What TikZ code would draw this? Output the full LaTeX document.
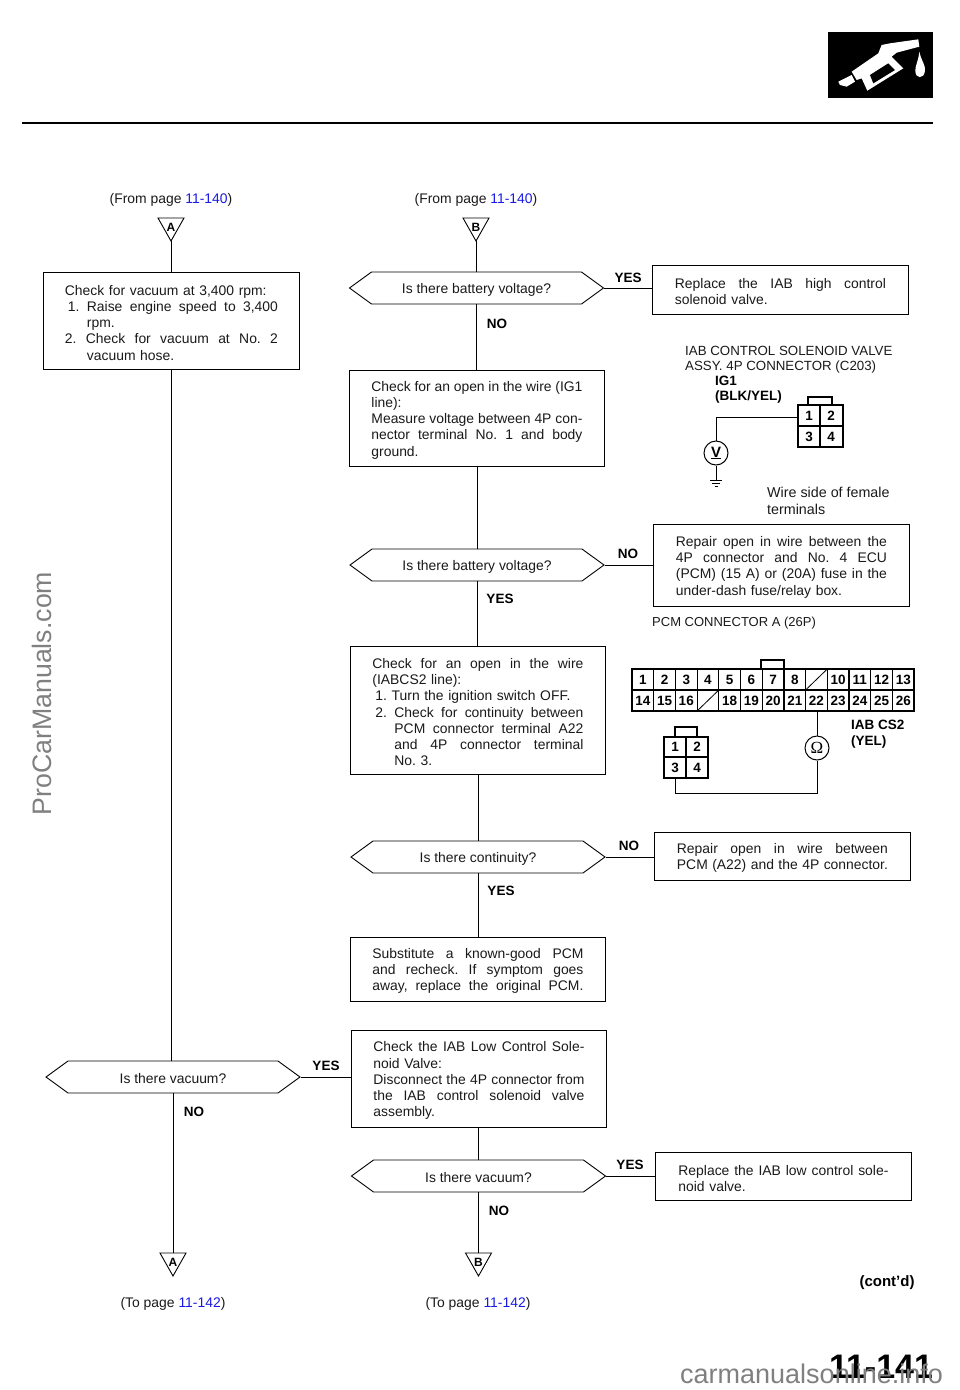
\documentclass[tikz,border=0pt]{standalone}
\usepackage{fontspec}
\setmainfont{Liberation Sans}
\newfontfamily\serifomega{Liberation Serif}
\usetikzlibrary{shapes.symbols}
\definecolor{linkblue}{HTML}{1A1AE6}
\definecolor{wmgray}{HTML}{808080}
\definecolor{ink}{HTML}{1A1A1A}
\AtBeginDocument{\frenchspacing}
\newcommand{\J}[2][0pt]{\makebox[\hsize][s]{\spaceskip=.278em plus 1fil minus .12em\relax\hspace*{#1}#2}}
\newcommand{\I}[2]{\hspace*{#1}#2}
\tikzset{
  txt/.style={font=\fontsize{13.9}{16.2}\selectfont,text=ink},
  capstxt/.style={font=\fontsize{13.3}{16.2}\selectfont,text=ink},
  boxn/.style={draw,line width=.9pt,anchor=north west,inner xsep=0pt,inner ysep=0pt,align=left,txt,execute at begin node=\rule{0pt}{13.5pt}},
  dia/.style={draw,line width=.9pt,signal,signal to=west and east,signal pointer angle=72,minimum width=254,minimum height=32,inner sep=0pt,txt,execute at begin node=\rule{0pt}{13.5pt}},
  ans/.style={font=\bfseries\fontsize{13.5}{14}\selectfont,inner sep=0pt,yshift=-1pt},
  plain/.style={inner sep=0pt,txt,yshift=-1.5pt},
  link/.style={line width=.9pt},
  pin/.style={font=\bfseries\fontsize{13.5}{13}\selectfont,inner sep=0pt},
  wire/.style={line width=1pt},
  conn/.style={line width=1.5pt},
  tag/.style={font=\bfseries\fontsize{13.5}{16}\selectfont,inner sep=0pt,anchor=west},
  meter/.style={draw,circle,line width=1pt,minimum size=24,inner sep=0pt,fill=white}
}
\newcommand{\tri}[4]{%
  \coordinate (#1t) at (#2,#3);
  \coordinate (#1b) at (#2,#3+23);
  \draw[line width=.9pt] (#2-13,#3) -- (#2+13,#3) -- (#2,#3+23) -- cycle;
  \node[inner sep=0pt,font=\bfseries\fontsize{12}{12}\selectfont] (#1l) at (#2,#3+9) {#4};}
\begin{document}
\begin{tikzpicture}[x=1pt,y=-1pt]
\useasboundingbox[fill=white] (0,0) rectangle (960,1390);
% header
\fill (828,32) rectangle (933,98);
\begin{scope}[shift={(640,0)},x=.3333pt,y=-.3333pt]
\fill[white] (595,245) -- (635,225) -- (645,245) -- (620,260) -- (600,255) -- cycle;
\fill[white] (635,215) -- (715,160) -- (725,135) -- (750,130) -- (835,118) -- (838,140) -- (770,158) -- (755,170) -- (790,205) -- (682,272) -- (665,235) -- (650,240) -- cycle;
\fill (690,225) -- (745,190) -- (765,210) -- (700,250) -- cycle;
\fill[white] (838,155) .. controls (845,185) and (857,195) .. (855,212) .. controls (853,238) and (826,238) .. (826,212) .. controls (826,195) and (835,185) .. (838,155) -- cycle;
\end{scope}
\draw[line width=2.6pt] (22,123) -- (933,123);
% watermark left
\node[rotate=90,text=wmgray,inner sep=0pt,font=\fontsize{26.7}{30}\selectfont] (wm1) at (41.5,693.5) {ProCarManuals.com};
% left column
\node[plain] (fa) at (171,198) {(From page \textcolor{linkblue}{11-140})};
\tri{ta}{171}{218}{A}
\node[boxn,text width=213,inner xsep=21.5pt,minimum height=97] (b1) at (43,272) {Check for vacuum at 3,400 rpm:\\
\J[3pt]{1. Raise engine speed to 3,400}\\
\I{22pt}{rpm.}\\
\J{2. Check for vacuum at No. 2}\\
\I{22pt}{vacuum hose.}};
\node[dia] (d5) at (173,1077) {Is there vacuum?};
\tri{tc}{173}{1253}{A}
\node[plain] (ta) at (173,1302) {(To page \textcolor{linkblue}{11-142})};
\node[ans] (y5) at (326,1065) {YES};
\node[ans] (n5) at (194,1111) {NO};
% middle column
\node[plain] (fb) at (476,198) {(From page \textcolor{linkblue}{11-140})};
\tri{tb}{476}{218}{B}
\node[dia] (d1) at (476.5,288) {Is there battery voltage?};
\node[ans] (n1) at (497,323) {NO};
\node[boxn,text width=211,inner xsep=22pt,minimum height=96] (b2) at (349,370) {\J{Check for an open in the wire (IG1}\\
line):\\
\J{Measure voltage between 4P con-}\\
\J{nector terminal No. 1 and body}\\
ground.};
\node[dia] (d2) at (477,565) {Is there battery voltage?};
\node[ans] (y2) at (500,598) {YES};
\node[boxn,text width=211,inner xsep=22pt,minimum height=128] (b3) at (350,646) {\J{Check for an open in the wire}\\
(IABCS2 line):\\
\I{3pt}{1. Turn the ignition switch OFF.}\\
\J[3pt]{2. Check for continuity between}\\
\J[22pt]{PCM connector terminal A22}\\
\J[22pt]{and 4P connector terminal}\\
\I{22pt}{No. 3.}};
\node[dia] (d3) at (478,857) {Is there continuity?};
\node[ans] (y3) at (501,890) {YES};
\node[boxn,text width=211,inner xsep=22pt,minimum height=64] (b4) at (350,937) {\J{Substitute a known-good PCM}\\
\J{and recheck. If symptom goes}\\
\J{away, replace the original PCM.}};
\node[boxn,text width=211,inner xsep=22pt,minimum height=97] (b5) at (351,1030) {\J{Check the IAB Low Control Sole-}\\
noid Valve:\\
\J{Disconnect the 4P connector from}\\
\J{the IAB control solenoid valve}\\
assembly.};
\node[dia] (d4) at (478.5,1176) {Is there vacuum?};
\node[ans] (n4) at (499,1210) {NO};
\tri{td}{478.5}{1253}{B}
\node[plain] (tb2) at (478,1302) {(To page \textcolor{linkblue}{11-142})};
% right column
\node[ans] (y1) at (628,277) {YES};
\node[boxn,text width=211,inner xsep=22.5pt,minimum height=49] (r1) at (652,265) {\J{Replace the IAB high control}\\
solenoid valve.};
\node[ans] (n2) at (628,553) {NO};
\node[boxn,text width=211,inner xsep=22.5pt,minimum height=82] (r2) at (653,524) {\J{Repair open in wire between the}\\
\J{4P connector and No. 4 ECU}\\
\J{(PCM) (15 A) or (20A) fuse in the}\\
under-dash fuse/relay box.};
\node[ans] (n3) at (629,845) {NO};
\node[boxn,text width=211,inner xsep=22.5pt,minimum height=48] (r3) at (654,832) {\J{Repair open in wire between}\\
\J{PCM (A22) and the 4P connector.}};
\node[ans] (y4) at (630,1164) {YES};
\node[boxn,text width=210,inner xsep=23pt,minimum height=48] (r4) at (655,1152) {\J{Replace the IAB low control sole-}\\
noid valve.};
% flow connectors
\draw[link] (tab) -- (b1.north -| tab);
\draw[link] (b1.south -| tab) -- (d5.north -| tab);
\draw[link] (d5.south) -- (tct);
\draw[link] (d5.east) -- (d5.east -| b5.west);
\draw[link] (tbb) -- (d1.north -| tbb);
\draw[link] (d1.south) -- (b2.north -| d1.south);
\draw[link] (d1.east) -- (d1.east -| r1.west);
\draw[link] (b2.south -| d2.north) -- (d2.north);
\draw[link] (d2.south) -- (b3.north -| d2.south);
\draw[link] (d2.east) -- (d2.east -| r2.west);
\draw[link] (b3.south -| d3.north) -- (d3.north);
\draw[link] (d3.south) -- (b4.north -| d3.south);
\draw[link] (d3.east) -- (d3.east -| r3.west);
\draw[link] (b5.south -| d4.north) -- (d4.north);
\draw[link] (d4.south) -- (tdt);
\draw[link] (d4.east) -- (d4.east -| r4.west);
% 4P connector diagram 1
\node[plain,capstxt,anchor=west] (c1a) at (685,349) {IAB CONTROL SOLENOID VALVE};
\node[plain,capstxt,anchor=west] (c1b) at (685,366) {ASSY. 4P CONNECTOR (C203)};
\node[tag] (ig1) at (715,381) {IG1};
\node[tag] (blk) at (715,397) {(BLK/YEL)};
\draw[conn] (798,405) rectangle (843,447);
\draw[conn] (820,405) -- (820,447) (798,426) -- (843,426);
\draw[conn] (808,405) -- (808,397) -- (832,397) -- (832,405);
\node[pin] at (809,416) {1};
\node[pin] at (831,416) {2};
\node[pin] at (809,437) {3};
\node[pin] at (831,437) {4};
\node[meter] (vm) at (716,453) {\bfseries\fontsize{15}{15}\selectfont\underline{V}};
\coordinate (w1) at (798,417);
\coordinate (gnd) at (716,480);
\draw[wire] (w1) -| (vm.north);
\draw[wire] (vm.south) -- (gnd);
\draw[wire] (710,480) -- (722,480) (712,483) -- (720,483) (714.5,486) -- (717.5,486);
\node[plain,font=\fontsize{14.3}{16.2}\selectfont,anchor=west] (ws1) at (767,491) {Wire side of female};
\node[plain,font=\fontsize{14.3}{16.2}\selectfont,anchor=west] (ws2) at (767,508) {terminals};
% PCM connector
\node[plain,font=\fontsize{13}{16.2}\selectfont,anchor=west] (pc) at (652,622) {PCM CONNECTOR A (26P)};
\draw[conn] (632,669) rectangle (914,711);
\draw[conn] (632,690) -- (914,690);
\draw[conn] (761,669) -- (761,660) -- (784,660) -- (784,669);
\foreach \i in {1,...,12} \draw[line width=1.2pt] ({632+\i*21.7},669) -- ({632+\i*21.7},711);
\draw[line width=.8pt] ({632+8*21.7},690) -- ({632+9*21.7},669);
\draw[line width=.8pt] ({632+3*21.7},711) -- ({632+4*21.7},690);
\foreach \n/\c in {1/0,2/1,3/2,4/3,5/4,6/5,7/6,8/7,10/9,11/10,12/11,13/12}
  \node[pin] at ({632+(\c+.5)*21.7},680) {\n};
\foreach \n/\c in {14/0,15/1,16/2,18/4,19/5,20/6,21/7,22/8,23/9,24/10,25/11,26/12}
  \node[pin] at ({632+(\c+.5)*21.7},700.5) {\n};
\node[tag] (cs1) at (851,725) {IAB CS2};
\node[tag] (cs2) at (851,742) {(YEL)};
\draw[conn] (664,737) rectangle (708,778);
\draw[conn] (686,737) -- (686,778) (664,757) -- (708,757);
\draw[conn] (675,737) -- (675,727) -- (697,727) -- (697,737);
\node[pin] at (675,747) {1};
\node[pin] at (697,747) {2};
\node[pin] at (675,768) {3};
\node[pin] at (697,768) {4};
\node[meter] (om) at (817,748) {\serifomega\fontsize{17}{17}\selectfont Ω};
\coordinate (pcm22) at (817,711);
\coordinate (p3) at (675,778);
\draw[wire] (pcm22) -- (om.north);
\draw[wire] (om.south) -- (817,793) -- (675,793) -- (p3);
% footer
\node[inner sep=0pt,font=\bfseries\fontsize{15}{16}\selectfont] (cd) at (887,1283) {(cont’d)};
\node[inner sep=0pt,font=\bfseries\fontsize{34}{34}\selectfont] (pg) at (881,1367) {11-141};
\node[text=wmgray,inner sep=0pt,font=\fontsize{27}{28}\selectfont,anchor=base west] (wm2) at (680,1383) {carmanualsonline.info};
\end{tikzpicture}
\end{document}
